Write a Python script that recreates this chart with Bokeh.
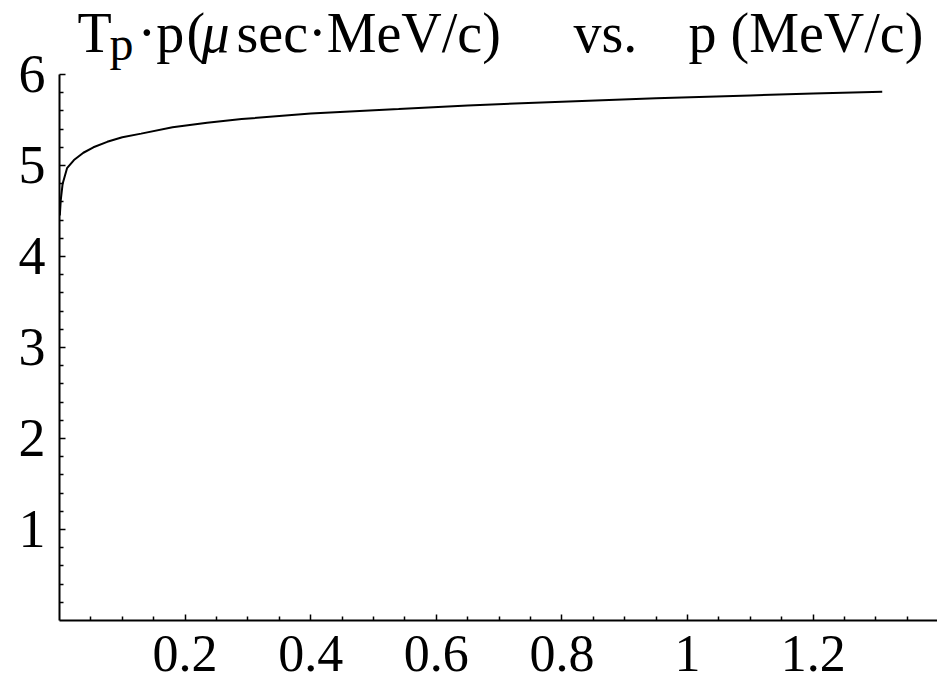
from bokeh.plotting import figure
from bokeh.models import Range1d, FixedTicker, Label
from bokeh.embed import file_html
from bokeh.resources import INLINE

# ---- data ----
p_vals = [0.0005, 0.002, 0.005, 0.012, 0.023, 0.038, 0.054, 0.076, 0.10, 0.13,
          0.18, 0.235, 0.29, 0.40, 0.54, 0.65, 0.80, 0.95, 1.10, 1.20, 1.31]
tp_vals = [4.45, 4.62, 4.80, 4.97, 5.06, 5.14, 5.20, 5.26, 5.31, 5.35,
           5.42, 5.47, 5.51, 5.57, 5.62, 5.66, 5.70, 5.74, 5.77, 5.79, 5.81]

x_ticks = [0.2, 0.4, 0.6, 0.8, 1.0, 1.2]
x_tick_labels = ["0.2", "0.4", "0.6", "0.8", "1", "1.2"]
y_ticks = [1, 2, 3, 4, 5, 6]
y_tick_labels = ["1", "2", "3", "4", "5", "6"]

FONT = "Liberation Serif"
W, H = 937, 682
LEFT, BOTTOM = 59, 62
X_MAX = 1.398
Y_MAX = 6.813

p = figure(width=W, height=H, output_backend="svg", toolbar_location=None,
           x_range=Range1d(0, X_MAX), y_range=Range1d(0, Y_MAX),
           min_border_left=LEFT, min_border_right=0, min_border_top=0,
           min_border_bottom=BOTTOM)
p.background_fill_color = "white"
p.border_fill_color = "white"
p.outline_line_color = None
p.xgrid.visible = False
p.ygrid.visible = False

p.line(p_vals, tp_vals, line_color="black", line_width=2)

minor_x = [i * 0.05 for i in range(1, 28) if i % 4 != 0]
minor_y = [i * 0.2 for i in range(1, 31) if i % 5 != 0]

for ax, ticks, labels, minor, bnd in (
        (p.xaxis[0], x_ticks, x_tick_labels, minor_x, (0, X_MAX)),
        (p.yaxis[0], y_ticks, y_tick_labels, minor_y, (0, 6))):
    ax.ticker = FixedTicker(ticks=ticks, minor_ticks=minor)
    ax.major_label_overrides = {t: l for t, l in zip(ticks, labels)}
    ax.bounds = bnd
    ax.axis_line_color = "black"
    ax.axis_line_width = 2
    ax.major_tick_line_color = "black"
    ax.minor_tick_line_color = "black"
    ax.major_tick_line_width = 1.5
    ax.minor_tick_line_width = 1.5
    ax.major_tick_in = 6
    ax.major_tick_out = 0
    ax.minor_tick_in = 4
    ax.minor_tick_out = 0
    ax.major_label_text_font = FONT
    ax.major_label_text_color = "black"

p.xaxis[0].major_label_text_font_size = "52px"
p.yaxis[0].major_label_text_font_size = "54px"
p.xaxis[0].major_label_standoff = 15
p.yaxis[0].major_label_standoff = 14


def dx(px):
    return (px - LEFT) / (W - LEFT) * X_MAX


def dy(py):
    return (H - BOTTOM - py) / (H - BOTTOM) * Y_MAX


title_parts = [
    ("T", 77, 32, "56px", "normal"),
    ("p", 109, 43, "48px", "normal"),
    ("\u00b7p", 137, 32, "56px", "normal"),
    ("(", 186, 32, "56px", "normal"),
    ("\u03bc", 201, 32, "56px", "italic"),
    ("sec\u00b7MeV/c)", 236, 32, "56px", "normal"),
    ("vs.", 573, 32, "56px", "normal"),
    ("p (MeV/c)", 688, 32, "56px", "normal"),
]
for txt, px, py, size, style in title_parts:
    p.add_layout(Label(x=dx(px), y=dy(py), text=txt, text_font=FONT,
                       text_font_size=size, text_font_style=style,
                       text_color="black", text_align="left",
                       text_baseline="alphabetic"))

open("out.html", "w").write(file_html(p, INLINE))
